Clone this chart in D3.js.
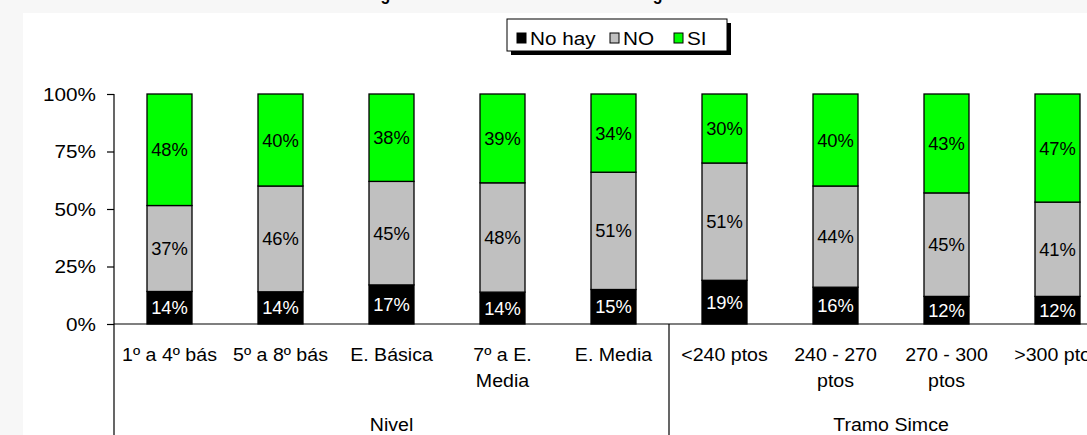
<!DOCTYPE html>
<html>
<head>
<meta charset="utf-8">
<script src="https://cdn.jsdelivr.net/npm/d3@7"></script>
<style>
  html, body { margin: 0; padding: 0; background: #f7f7f7; }
  svg { display: block; font-family: "Liberation Sans", Arial, sans-serif; }
</style>
</head>
<body>
<div id="chart"></div>
<script>
// categories (wrapped as shown in the axis), grouped in two levels
const categories = [
    ["1º a 4º bás"], ["5º a 8º bás"], ["E. Básica"], ["7º a E.", "Media"], ["E. Media"],
    ["<240 ptos"], ["240 - 270", "ptos"], ["270 - 300", "ptos"], [">300 ptos"]
];
const groupNames = ["Nivel", "Tramo Simce"];
const groupSizes = [5, 4];

const seriesNames = ["No hay", "NO", "SI"];
const noHay = [14, 14, 17, 14, 15, 19, 16, 12, 12];
const no = [37, 46, 45, 48, 51, 51, 44, 45, 41];
const si = [48, 40, 38, 39, 34, 30, 40, 43, 47];

const yTicks = [0, 0.25, 0.5, 0.75, 1];
const titleText = "Existencia de Reglamento de Convivencia en el Colegio";

const W = 1087, H = 435;
const margin = { left: 114, top: 94, bottom: 324 };
const bandStep = 111;
const colors = ["#000000", "#c0c0c0", "#00ff00"];
const sx = 1.12; // glyphs in the reference are a bit wide

const svg = d3.select("#chart").append("svg").attr("width", W).attr("height", H);

svg.append("rect").attr("x", 23).attr("y", 13).attr("width", W).attr("height", H).attr("fill", "#fff");

// horizontally stretched text
function stext(g, x, y, str, size, anchor, scale) {
    return g.append("text")
        .attr("transform", `translate(${x},${y}) scale(${scale || sx},1)`)
        .attr("text-anchor", anchor || "middle")
        .style("font-size", size + "px")
        .attr("fill", "#000")
        .text(str);
}

// title is cut off at the top: only the two "g" tails show
const title = svg.append("text").style("font-size", "18px").style("font-weight", "bold").text(titleText);
{
    const node = title.node();
    const i1 = titleText.indexOf("g"), i2 = titleText.lastIndexOf("g");
    const e1 = node.getExtentOfChar(i1), e2 = node.getExtentOfChar(i2);
    const c1 = e1.x + e1.width / 2, c2 = e2.x + e2.width / 2;
    const s = (658 - 385.5) / (c2 - c1);
    title.attr("transform", `translate(${385.5 - s * c1},-0.5) scale(${s},1)`);
}

const keys = ["nohay", "no", "si"];
const rows = categories.map((c, i) => ({ key: c.join(" "), nohay: noHay[i], no: no[i], si: si[i] }));
const stacked = d3.stack().keys(keys).offset(d3.stackOffsetExpand)(rows);

const x = d3.scaleBand()
    .domain(rows.map(d => d.key))
    .range([margin.left, margin.left + bandStep * categories.length])
    .paddingInner(0).paddingOuter(0);
const barW = 45;
const y = d3.scaleLinear().domain([0, 1]).range([margin.bottom, margin.top]);

// bars
const layers = svg.append("g").selectAll("g").data(stacked).join("g")
    .attr("fill", (d, i) => colors[i]);
layers.selectAll("rect").data(d => d).join("rect")
    .attr("x", d => x(d.data.key) + x.bandwidth() / 2 - barW / 2)
    .attr("y", d => y(d[1]))
    .attr("width", barW)
    .attr("height", d => y(d[0]) - y(d[1]))
    .attr("stroke", "#000")
    .attr("stroke-width", 1.3);

// data labels
const labels = svg.append("g");
stacked.forEach((layer, li) => {
    layer.forEach(d => {
        const cx = x(d.data.key) + x.bandwidth() / 2;
        const cy = (y(d[0]) + y(d[1])) / 2 + 6.5;
        stext(labels, cx, cy, d.data[keys[li]] + "%", 18, "middle", 1.02)
            .attr("fill", li === 0 ? "#fff" : "#000");
    });
});

// y axis
const yAxis = svg.append("g").attr("transform", `translate(${margin.left},0)`)
    .call(d3.axisLeft(y).tickValues(yTicks).tickSize(7).tickFormat(""));
yAxis.selectAll("path, line").attr("stroke", "#000").attr("stroke-width", 1.2);
yAxis.select("path").attr("d", `M0,${margin.top}V${margin.bottom}`);
yTicks.forEach(t => stext(svg, 96, y(t) + 6.5, d3.format(".0%")(t), 18.5, "end", 1.12));

// x axis baseline
svg.append("line")
    .attr("x1", margin.left).attr("x2", W)
    .attr("y1", margin.bottom).attr("y2", margin.bottom)
    .attr("stroke", "#000").attr("stroke-width", 1.2);

// category labels
categories.forEach((lines, i) => {
    const cx = x(rows[i].key) + x.bandwidth() / 2;
    lines.forEach((ln, j) => stext(svg, cx, 361 + j * 26, ln, 17.5, "middle", 1.12));
});

// group separators and group labels
let start = 0;
groupNames.forEach((g, gi) => {
    const x0 = x(rows[start].key);
    const x1 = x0 + bandStep * groupSizes[gi];
    svg.append("line").attr("x1", x0).attr("x2", x0).attr("y1", margin.bottom).attr("y2", H)
        .attr("stroke", "#000").attr("stroke-width", 1.2);
    stext(svg, (x0 + x1) / 2, 431, g, 17.5, "middle", 1.12);
    start += groupSizes[gi];
});

// legend
const legend = svg.append("g");
legend.append("rect").attr("x", 511).attr("y", 23).attr("width", 220).attr("height", 32).attr("fill", "#000");
legend.append("rect").attr("x", 507).attr("y", 19).attr("width", 220).attr("height", 32)
    .attr("fill", "#fff").attr("stroke", "#000").attr("stroke-width", 1);
const legendX = [517, 610, 674];
seriesNames.forEach((name, i) => {
    legend.append("rect").attr("x", legendX[i]).attr("y", 33).attr("width", 9).attr("height", 10)
        .attr("fill", colors[i]).attr("stroke", "#000").attr("stroke-width", 1);
    stext(legend, legendX[i] + 13, 44.5, name, 18.5, "start", 1.12);
});
</script>
</body>
</html>
